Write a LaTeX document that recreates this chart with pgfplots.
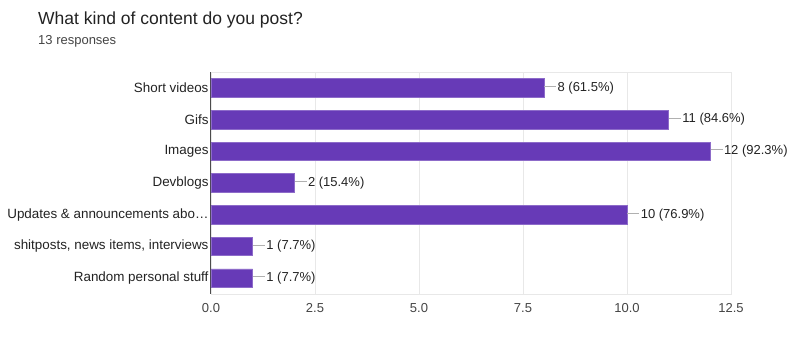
\documentclass[border=0pt]{standalone}
\usepackage{fontspec}
\setmainfont{Liberation Sans}
\usepackage{pgfplots}
\pgfplotsset{compat=1.18}
\definecolor{barpurple}{HTML}{673AB7}
\definecolor{gridgray}{HTML}{E8E8E8}
\definecolor{linkgray}{HTML}{B0B0B0}
\definecolor{txtdark}{HTML}{222222}
\definecolor{ticktxt}{HTML}{444444}
\begin{document}
\begin{tikzpicture}
\useasboundingbox (0pt,0pt) rectangle (789pt,354pt);
\node[anchor=base west, font=\fontsize{17.5}{20}\selectfont, text=txtdark, inner sep=0] at (38pt,329pt) {What kind of content do you post?};
\node[anchor=base west, font=\fontsize{13}{15}\selectfont, text=ticktxt, inner sep=0] at (38pt,309pt) {13 responses};
\begin{axis}[
  at={(211pt,60pt)}, anchor=south west,
  scale only axis, width=520pt, height=222pt,
  xmin=0, xmax=12.5, ymin=-0.5, ymax=6.5, y dir=reverse,
  xtick={0,2.5,5,7.5,10,12.5},
  xticklabel style={/pgf/number format/assume math mode=true, /pgf/number format/fixed, /pgf/number format/fixed zerofill, /pgf/number format/precision=1, font=\fontsize{13}{15}\selectfont, text=ticktxt, yshift=-6pt},
  ytick={0,1,2,3,4,5,6},
  yticklabels={Short videos, Gifs, Images, Devblogs, {Updates \& announcements abo…}, {shitposts, news items, interviews}, Random personal stuff},
  yticklabel style={font=\fontsize{13.4}{15}\selectfont, text=txtdark, xshift=1pt},
  major tick length=0pt,
  xmajorgrids, grid style={gridgray, line width=0.8pt},
  axis line style={gridgray, line width=0.8pt},
  extra x ticks={0}, extra x tick labels={},
  extra x tick style={grid style={black!70, line width=1pt}},
  xbar, bar width=18.5pt,
  point meta=explicit symbolic,
  nodes near coords={\textcolor{linkgray}{\rule[0.33em]{12pt}{0.9pt}}\hspace{1.5pt}\pgfplotspointmeta},
  nodes near coords style={anchor=west, inner sep=0pt, font=\fontsize{13}{15}\selectfont, text=txtdark},
  clip=false,
]
\addplot[fill=barpurple, draw=barpurple!75!white, line width=0.6pt] coordinates {
  (8,0) [8 (61.5\%)]
  (11,1) [11 (84.6\%)]
  (12,2) [12 (92.3\%)]
  (2,3) [2 (15.4\%)]
  (10,4) [10 (76.9\%)]
  (1,5) [1 (7.7\%)]
  (1,6) [1 (7.7\%)]
};
\end{axis}
\end{tikzpicture}
\end{document}
